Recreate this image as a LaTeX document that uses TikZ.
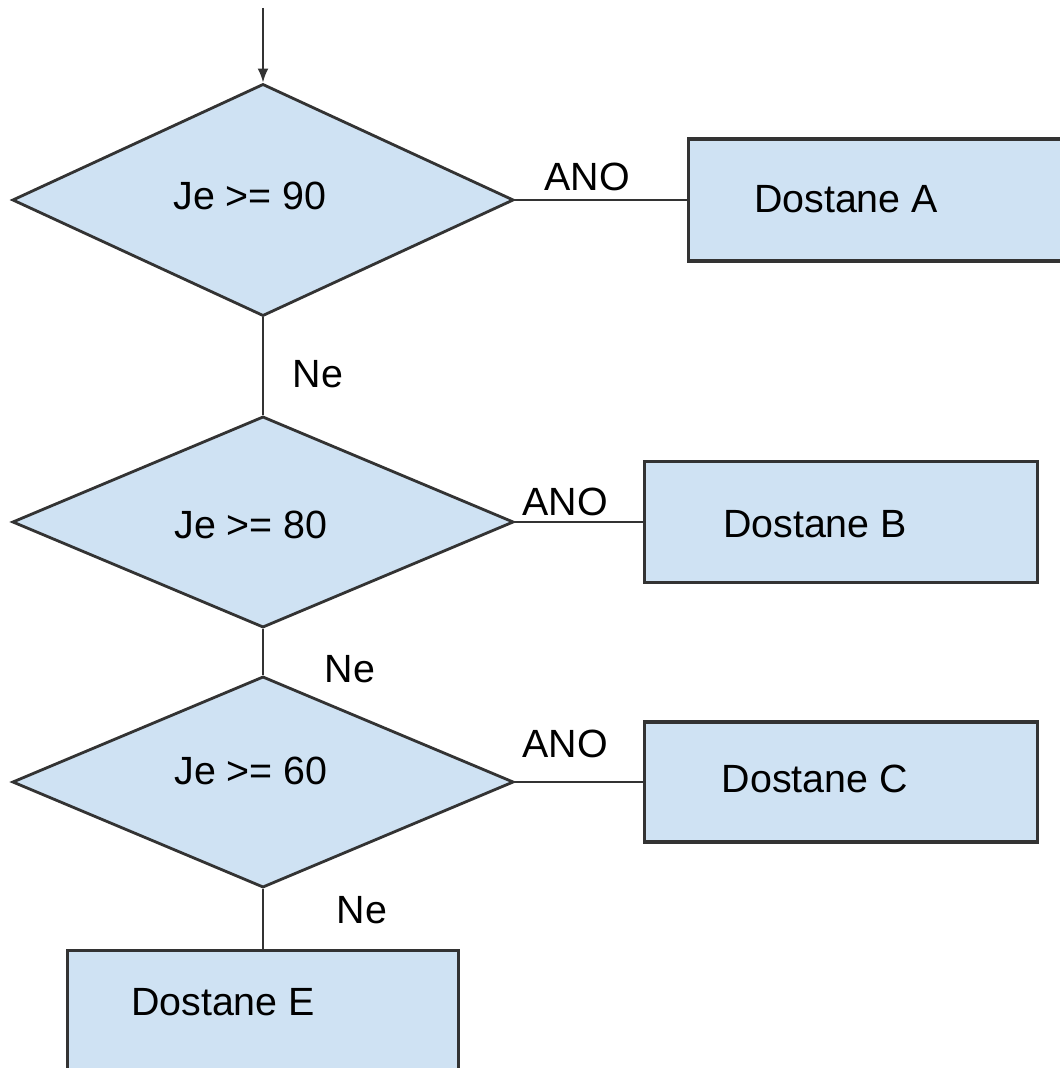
\documentclass[tikz,border=0pt]{standalone}
\usepackage{fontspec}
\setmainfont{Liberation Sans}
\usetikzlibrary{shapes.geometric,arrows.meta}
\definecolor{boxblue}{HTML}{CFE2F3}
\definecolor{edgegray}{HTML}{333333}
\tikzset{
  cond/.style={diamond, draw=edgegray, fill=boxblue, line width=0.8pt,
    minimum width=5.01cm, minimum height=2.11cm, inner sep=0pt},
  result/.style={rectangle, draw=edgegray, fill=boxblue, line width=0.9pt,
    minimum width=3.92cm, minimum height=1.21cm, inner sep=0pt},
  lbl/.style={font=\fontsize{11.2}{13}\selectfont, inner sep=0pt},
  link/.style={draw=edgegray, line width=0.6pt}
}
\begin{document}
\begin{tikzpicture}[x=0.01cm,y=-0.01cm]
\useasboundingbox (0,0) rectangle (1059,1068);
%\draw[step=100,very thin,color=gray] (0,0) grid (1059,1068);
\coordinate (start) at (263,8);
% conditions
\node[cond, minimum height=2.32cm, label={[lbl,xshift=-0.13cm,yshift=0.04cm]center:Je >= 90}] (d90) at (263,200) {};
\node[cond, label={[lbl,xshift=-0.12cm,yshift=-0.03cm]center:Je >= 80}] (d80) at (263,522) {};
\node[cond, label={[lbl,xshift=-0.12cm,yshift=0.11cm]center:Je >= 60}] (d60) at (263,782) {};
% results
\node[result, minimum height=1.22cm, label={[lbl,xshift=-0.39cm,yshift=0.01cm]center:Dostane A}] (resA) at (885,200) {};
\node[result, label={[lbl,xshift=-0.26cm,yshift=-0.025cm]center:Dostane B}] (resB) at (841,522) {};
\node[result, minimum height=1.20cm, label={[lbl,xshift=-0.26cm,yshift=0.03cm]center:Dostane C}] (resC) at (841,782) {};
\node[result, minimum width=3.90cm, label={[lbl,xshift=-0.40cm,yshift=0.09cm]center:Dostane E}] (resE) at (263,1011) {};
% connectors
\draw[link,-{Latex[length=1.4mm,width=1.1mm]}] (start) -- (d90.north);
\draw[link] (d90.east) -- (resA.west);
\draw[link] (d90.south) -- (d80.north);
\draw[link] (d80.east) -- (resB.west);
\draw[link] (d80.south) -- (d60.north);
\draw[link] (d60.east) -- (resC.west);
\draw[link] (d60.south) -- (resE.north);
% answers
\node[lbl] (ano90) at (587,177) {ANO};
\node[lbl] (ano80) at (565,502) {ANO};
\node[lbl] (ano60) at (565,744) {ANO};
\node[lbl] (ne90) at (318,374) {Ne};
\node[lbl] (ne80) at (350,669) {Ne};
\node[lbl] (ne60) at (362,910) {Ne};
\end{tikzpicture}
\end{document}
